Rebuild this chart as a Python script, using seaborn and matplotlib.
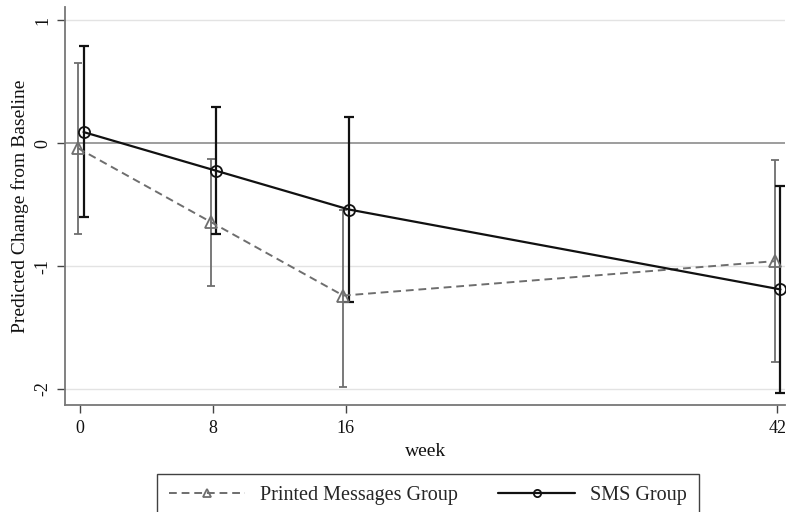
import numpy as np
import pandas as pd
import matplotlib
matplotlib.use("Agg")
import matplotlib.pyplot as plt
import seaborn as sns

weeks = [0, 8, 16, 42]
printed_mean = [-0.04, -0.64, -1.24, -0.96]
printed_lo = [-0.74, -1.16, -1.98, -1.78]
printed_hi = [0.65, -0.13, -0.54, -0.14]
sms_mean = [0.09, -0.225, -0.54, -1.19]
sms_lo = [-0.60, -0.74, -1.29, -2.03]
sms_hi = [0.79, 0.29, 0.21, -0.35]
groups = ["Printed Messages Group", "SMS Group"]

sns.set_theme(style="white")
plt.rcParams['font.family'] = ['Liberation Serif', 'DejaVu Serif']

dodge = {groups[0]: -0.15, groups[1]: 0.2}
df = pd.DataFrame({
    "week": weeks * 2,
    "value": printed_mean + sms_mean,
    "lo": printed_lo + sms_lo,
    "hi": printed_hi + sms_hi,
    "group": [groups[0]] * 4 + [groups[1]] * 4,
})
df["xpos"] = df["week"] + df["group"].map(dodge)

fig = plt.figure(figsize=(7.87, 5.12), dpi=100)
ax = fig.add_axes([0.083, 0.209, 0.915, 0.777])

colors = {groups[0]: "#6e6e6e", groups[1]: "#111111"}
styles = {groups[0]: dict(ls=(0, (4, 2.5)), lw=1.4, marker="^", cap=2.6, elw=1.3),
          groups[1]: dict(ls="-", lw=1.6, marker="o", cap=3.3, elw=1.6)}

ax.axhline(0, color="#8c8c8c", lw=1.2, zorder=1)
for yv in [1, -1, -2]:
    ax.axhline(yv, color="#e3e3e3", lw=1.0, zorder=0)

for g in groups:
    d = df[df["group"] == g]
    st = styles[g]
    ax.errorbar(d["xpos"], d["value"],
                yerr=[d["value"] - d["lo"], d["hi"] - d["value"]],
                fmt="none", ecolor=colors[g], elinewidth=st["elw"],
                capsize=st["cap"], capthick=st["elw"], zorder=2)
    sns.lineplot(data=d, x="xpos", y="value", ax=ax, color=colors[g],
                 linestyle=st["ls"], lw=st["lw"], marker=st["marker"],
                 markersize=8, markerfacecolor="none",
                 markeredgecolor=colors[g], markeredgewidth=1.3,
                 label=g, zorder=3, legend=False)

ax.set_xlim(-0.9, 42.5)
ax.set_ylim(-2.13, 1.106)
ax.set_xticks(weeks)
ax.set_xticklabels([str(w) for w in weeks])
ax.set_yticks([1, 0, -1, -2])
ax.set_yticklabels(["1", "0", "-1", "-2"], rotation=90, va="center")
ax.tick_params(axis="both", which="both", direction="out", length=6,
               width=1, color="#444444", labelsize=13, labelcolor="#111111",
               bottom=True, left=True)
ax.tick_params(axis="y", pad=4)
ax.tick_params(axis="x", pad=5)
ax.set_xlabel("week", fontsize=14, color="#111111", labelpad=4)
ax.set_ylabel("Predicted Change from Baseline", fontsize=14, color="#111111", labelpad=4)
for s in ["top", "right"]:
    ax.spines[s].set_visible(False)
for s in ["left", "bottom"]:
    ax.spines[s].set_color("#777777")
    ax.spines[s].set_linewidth(1.3)

handles, labels = ax.get_legend_handles_labels()
leg = fig.legend(handles, labels, loc="upper center", bbox_to_anchor=(0.5435, 1 - 474 / 512),
                 ncol=2, frameon=True, fancybox=False, fontsize=14.5,
                 handlelength=3.8, handletextpad=0.75, columnspacing=2.0,
                 borderpad=0.6, markerscale=0.65, borderaxespad=0)
leg.get_frame().set_edgecolor("#111111")
leg.get_frame().set_linewidth(1.0)

fig.savefig("out.png", dpi=100)
